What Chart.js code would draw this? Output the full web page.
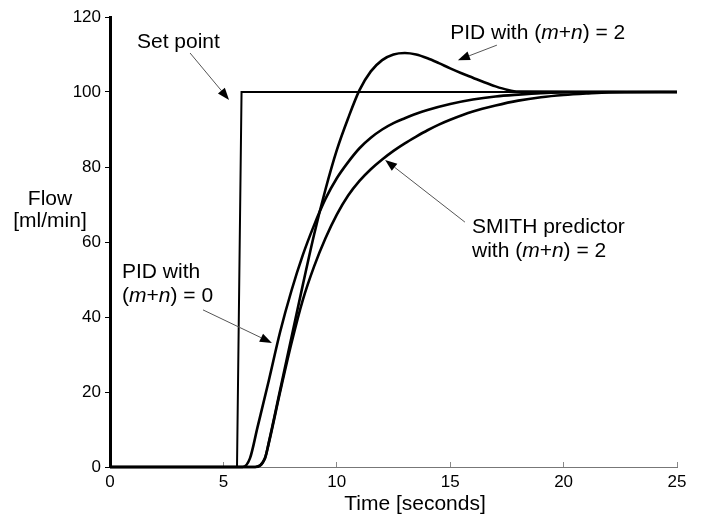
<!DOCTYPE html>
<html>
<head>
<meta charset="utf-8">
<script src="https://cdn.jsdelivr.net/npm/chart.js@4"></script>
<style>
  html, body { margin: 0; padding: 0; background: #fff; }
  #wrap { width: 702px; height: 521px; }
</style>
</head>
<body>
<div id="wrap"><canvas id="flowChart"></canvas></div>
<script>
// step response data (time in s, flow in ml/min)
const setPointTime = [0, 5.6, 5.8, 25];
const setPointFlow = [0, 0, 100, 100];

const pid0Time = [0, 5.85, 6.17, 6.5, 7, 7.5, 8, 8.5, 9, 9.5, 10, 10.5, 11, 11.5, 12, 12.5, 13, 13.5, 14, 15, 16, 17, 18, 19, 20, 22, 25];
const pid0Flow = [0, 0, 2.3, 10.5, 23, 36, 47, 56.5, 64.5, 71.5, 77, 81.3, 85, 87.8, 90, 91.7, 93, 94.2, 95.2, 96.8, 98, 98.8, 99.3, 99.7, 99.9, 100, 100];

const pid2Time = [0, 6.4, 6.83, 7, 7.5, 8, 8.5, 9, 9.5, 10, 10.5, 11, 11.5, 12, 12.5, 13, 13.5, 14, 14.5, 15, 15.5, 16, 16.5, 17, 17.5, 18, 25];
const pid2Flow = [0, 0, 2.3, 6.5, 20.5, 34.5, 48.5, 62, 74, 84.5, 93, 100.5, 105.5, 108.5, 110, 110.4, 110, 109, 107.7, 106.3, 105, 103.8, 102.6, 101.5, 100.6, 100.1, 100];

const smithTime = [0, 6.4, 6.83, 7, 7.5, 8, 8.5, 9, 9.5, 10, 10.5, 11, 11.5, 12, 12.5, 13, 13.5, 14, 14.5, 15, 16, 17, 18, 19, 20, 21, 22, 25];
const smithFlow = [0, 0, 2.3, 6.3, 20, 33, 44.5, 53.5, 61, 67.3, 72.4, 76.3, 79.4, 82.0, 84.3, 86.3, 88.1, 89.8, 91.3, 92.6, 94.8, 96.4, 97.7, 98.6, 99.2, 99.6, 99.9, 100];

const xTicks = [0, 5, 10, 15, 20, 25];
const yTicks = [0, 20, 40, 60, 80, 100, 120];

const FONT = '"Liberation Sans", Arial, sans-serif';

function toPoints(xs, ys) {
    return xs.map((x, i) => ({ x: x, y: ys[i] }));
}

// callouts, placed in data units; _m_ is set in italics
const callouts = [
    { lines: ['Set point'], at: [1.19, 113.3], from: [3.53, 110.4], to: [5.25, 97.9] },
    { lines: ['PID with (_m_+_n_) = 2'], at: [15.0, 115.7], from: [17.06, 112.5], to: [15.34, 108.5] },
    { lines: ['SMITH predictor', 'with (_m_+_n_) = 2'], at: [15.96, 64], from: [15.65, 65.3], to: [12.13, 81.9] },
    { lines: ['PID with', '(_m_+_n_) = 0'], at: [0.53, 52], from: [4.1, 41.9], to: [7.14, 33.1] },
];

function drawRich(ctx, str, x, y, size) {
    const parts = str.split('_');
    let cx = x;
    parts.forEach((p, i) => {
        ctx.font = (i % 2 ? 'italic ' : '') + size + 'px ' + FONT;
        ctx.fillText(p, cx, y);
        cx += ctx.measureText(p).width;
    });
}

function drawArrow(ctx, x1, y1, x2, y2) {
    const ang = Math.atan2(y2 - y1, x2 - x1);
    const len = 12, half = 4.5;
    const bx = x2 - len * Math.cos(ang), by = y2 - len * Math.sin(ang);
    ctx.strokeStyle = '#555';
    ctx.lineWidth = 1;
    ctx.beginPath();
    ctx.moveTo(x1, y1);
    ctx.lineTo(bx, by);
    ctx.stroke();
    ctx.fillStyle = '#000';
    ctx.beginPath();
    ctx.moveTo(x2, y2);
    ctx.lineTo(bx + half * Math.sin(ang), by - half * Math.cos(ang));
    ctx.lineTo(bx - half * Math.sin(ang), by + half * Math.cos(ang));
    ctx.closePath();
    ctx.fill();
}

const notesPlugin = {
    id: 'notes',
    afterDraw(chart) {
        const ctx = chart.ctx;
        const xs = chart.scales.x, ys = chart.scales.y;
        const area = chart.chartArea;
        ctx.save();
        ctx.fillStyle = '#000';
        ctx.textBaseline = 'middle';
        ctx.textAlign = 'left';
        callouts.forEach(c => {
            const px = xs.getPixelForValue(c.at[0]);
            const py = ys.getPixelForValue(c.at[1]);
            c.lines.forEach((line, i) => {
                ctx.fillStyle = '#000';
                drawRich(ctx, line, px, py + i * 24, 21);
            });
            drawArrow(ctx,
                xs.getPixelForValue(c.from[0]), ys.getPixelForValue(c.from[1]),
                xs.getPixelForValue(c.to[0]), ys.getPixelForValue(c.to[1]));
        });

        // axis titles
        ctx.fillStyle = '#000';
        ctx.textAlign = 'center';
        ctx.font = '21px ' + FONT;
        ctx.fillText('Flow', area.left - 60, 199);
        ctx.fillText('[ml/min]', area.left - 60, 221);
        ctx.fillText('Time [seconds]', 415, 504);
        ctx.restore();
    }
};

const lineStyle = {
    borderColor: '#000',
    borderWidth: 2.6,
    pointRadius: 0,
    fill: false,
    clip: false,
    cubicInterpolationMode: 'monotone',
};

new Chart(document.getElementById('flowChart'), {
    type: 'scatter',
    data: {
        datasets: [
            { label: 'Set point', data: toPoints(setPointTime, setPointFlow), showLine: true,
              borderColor: '#000', borderWidth: 2, pointRadius: 0, tension: 0, clip: false },
            Object.assign({ label: 'PID with (m+n) = 0', data: toPoints(pid0Time, pid0Flow), showLine: true }, lineStyle),
            Object.assign({ label: 'PID with (m+n) = 2', data: toPoints(pid2Time, pid2Flow), showLine: true }, lineStyle),
            Object.assign({ label: 'SMITH predictor with (m+n) = 2', data: toPoints(smithTime, smithFlow), showLine: true }, lineStyle),
        ],
    },
    options: {
        responsive: true,
        maintainAspectRatio: false,
        animation: false,
        layout: { padding: { top: 17, right: 25, left: 0, bottom: 0 } },
        plugins: {
            legend: { display: false },
            tooltip: { enabled: false },
        },
        scales: {
            x: {
                type: 'linear',
                min: 0,
                max: 25,
                afterBuildTicks: (s) => { s.ticks = xTicks.map(v => ({ value: v })); },
                afterFit: (s) => { s.height = 54; },
                grid: { drawOnChartArea: false, drawTicks: true, tickLength: -5, color: '#888' },
                border: { color: '#777', width: 1 },
                ticks: { color: '#000', font: { size: 17, family: FONT }, padding: 10, maxRotation: 0 },
            },
            y: {
                type: 'linear',
                min: 0,
                max: 120,
                afterBuildTicks: (s) => { s.ticks = yTicks.map(v => ({ value: v })); },
                afterFit: (s) => { s.width = 110; },
                grid: { drawOnChartArea: false, drawTicks: true, tickLength: 5, color: '#000' },
                border: { color: '#000', width: 3 },
                ticks: { color: '#000', font: { size: 17, family: FONT }, padding: 4 },
            },
        },
    },
    plugins: [notesPlugin],
});
</script>
</body>
</html>
